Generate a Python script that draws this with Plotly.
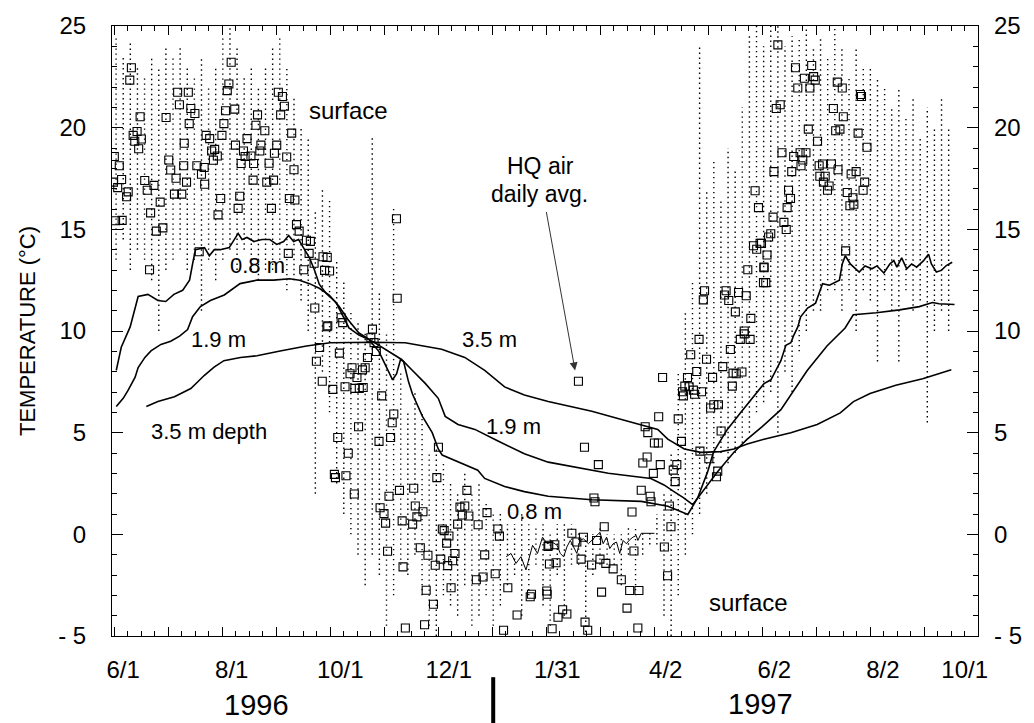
import plotly.graph_objects as go

# ---------------- data (x = days since 1996-06-01, y = temperature degC) -------------
# 0.8 m depth
d08_day = [-3.9, -1.1, 3.9, 6.7, 8.4, 13.9, 19.5, 23.9, 28.5, 33.4, 37.3, 39.0, 40.6, 45.7, 48.4,
           51.2, 54.6, 59.6, 62.4, 64.6, 66.8, 69.6, 73.5, 78.0, 82.4, 86.3, 90.2, 93.0, 95.8, 98.6,
           101.3, 104.7, 107.5, 110.2, 114.1, 119.7, 126.9, 132.5, 138.1, 143.7, 149.2, 151.4, 153.7,
           155.9, 157.6, 160.4, 162.6, 168.2, 173.7, 177.1, 179.3, 188.2, 199.3, 203.2, 214.4, 225.5,
           238.9, 263.4, 291.2, 306.2, 317.4, 322.9, 328.5, 331.8, 339.6, 346.9, 354.1, 360.2, 364.1,
           369.7, 372.5, 375.3, 377.0, 379.2, 380.8, 384.7, 389.2, 393.1, 397.0, 402.6, 404.2, 405.9,
           408.7, 413.7, 417.0, 420.9, 423.7, 427.6, 431.0, 433.2, 434.9, 437.6, 440.4, 443.2, 446.0,
           449.9, 452.7, 454.3, 457.1, 459.9, 462.7, 466.0]
d08_temp = [8.06, 9.2, 10.2, 11.2, 11.7, 11.8, 11.5, 11.45, 11.8, 12.0, 12.5, 13.3, 14.0, 14.1, 13.7,
            14.0, 14.0, 14.1, 14.5, 14.8, 14.5, 14.6, 14.4, 14.5, 14.5, 14.26, 14.4, 14.7, 14.4, 14.5,
            14.1, 13.6, 13.0, 12.3, 11.85, 11.4, 10.15, 9.8, 9.58, 9.0, 8.0, 7.6, 7.9,
            8.6, 8.5, 7.5, 6.9, 5.8, 5.0, 4.2, 3.9, 3.55, 3.15, 2.75, 2.35, 2.1,
            1.87, 1.7, 1.62, 1.38, 0.98, 1.79, 3.07, 4.04, 5.16, 5.97, 6.77, 7.41, 7.6,
            8.54, 9.3, 9.42, 9.8, 10.2, 10.7, 11.13, 11.37, 12.33, 12.25, 12.5, 13.3, 13.7,
            13.3, 12.9, 13.2, 13.06, 13.2, 12.85, 13.3, 13.46, 13.14, 13.6, 13.06, 13.3, 13.14,
            13.46, 13.78, 13.3, 12.9, 12.98, 13.22, 13.38]

# 1.9 m depth
d19_day = [-3.9, 0.0, 2.8, 6.7, 8.4, 12.2, 15.6, 21.2, 26.7, 31.7, 36.2, 39.0, 43.4, 49.0, 56.8,
           65.7, 75.1, 84.6, 93.5, 99.1, 104.7, 110.2, 115.8, 121.4, 126.9, 132.5, 138.1, 143.7,
           149.2, 156.5, 162.6, 169.9, 177.1, 181.0, 188.2, 197.7, 210.4, 225.5, 238.9, 253.9,
           272.7, 296.6, 304.0, 309.6, 315.1, 320.1, 328.5, 334.0, 343.3, 350.8, 359.2, 369.7,
           384.5, 395.6, 405.8, 410.4, 423.4, 436.4, 447.5, 454.9, 458.6, 467.3]
d19_temp = [6.29, 6.69, 7.09, 7.73, 8.2, 8.7, 9.02, 9.34, 9.5, 9.75, 10.07, 10.7, 11.2, 11.5, 11.77,
            12.33, 12.5, 12.5, 12.57, 12.5, 12.33, 12.1, 11.77, 11.2, 10.5, 9.9, 9.6, 9.3,
            9.0, 8.6, 8.06, 7.41, 6.69, 5.8, 5.4, 5.16, 4.6, 3.96, 3.55, 3.32,
            3.0, 2.75, 2.43, 2.1, 1.79, 1.46, 2.43, 3.07, 4.04, 4.68, 5.3, 6.13,
            8.06, 9.26, 10.15, 10.8, 10.9, 11.04, 11.2, 11.4, 11.34, 11.3]

# 3.5 m depth
d35_day = [13.0, 19.5, 28.8, 38.0, 41.8, 45.5, 51.1, 56.6, 65.9, 75.2, 88.2, 103.0, 116.4, 139.0,
           158.5, 169.6, 179.0, 192.0, 203.2, 214.4, 225.5, 238.9, 263.4, 280.1, 292.9, 300.5,
           306.1, 315.4, 324.7, 335.8, 343.3, 350.8, 360.2, 375.3, 390.1, 403.1, 410.5, 419.8,
           434.3, 449.4, 465.5]
d35_temp = [6.29, 6.53, 6.77, 7.17, 7.49, 7.81, 8.22, 8.54, 8.7, 8.78, 9.02, 9.26, 9.42, 9.45,
            9.42, 9.26, 9.1, 8.7, 8.06, 7.25, 6.85, 6.53, 6.05, 5.65, 5.32, 5.16,
            4.68, 4.2, 4.03, 4.07, 4.2, 4.44, 4.68, 5.0, 5.4, 5.97, 6.53, 6.93,
            7.33, 7.65, 8.09]

# surface sensor, snow-covered period (near-continuous trace)
snow_day = [215.3, 218.0, 220.8, 223.6, 226.4, 228.2, 230.1, 232.9, 235.7, 238.3, 241.1, 243.9,
            245.7, 247.6, 249.4, 251.3, 254.1, 255.0, 256.8, 258.7, 261.5, 265.2, 268.0, 269.8,
            271.7, 273.5, 275.4, 277.3, 279.1, 281.0, 282.8, 284.7, 286.5, 288.4, 289.3, 291.2,
            298.6]
snow_temp = [-1.1, -0.94, -1.43, -1.1, -1.75, -1.1, -0.54, -0.94, -0.14, -0.46, -0.38, -0.54,
             -0.94, -1.11, -0.62, -0.30, -0.78, -0.94, -0.30, -0.22, -0.46, -0.14, 0.10, -0.46,
             -0.14, -0.70, -0.46, -0.38, -0.94, -0.30, -0.46, -0.27, -0.14, -0.06, -0.30, 0.05,
             0.05]

# surface sensor, hourly readings summarised as 4-day ranges (bin centre, min, max)
surf_day = [-4, 0, 4, 8, 12, 16, 20, 24, 28, 32, 36, 40, 44, 48, 52, 56, 60, 64, 68, 72, 76, 80,
            84, 88, 92, 96, 100, 104, 108, 112, 116, 120, 124, 128, 132, 136, 140, 144, 148, 152,
            156, 160, 164, 168, 172, 176, 180, 184, 188, 192, 196, 200, 204, 208, 212, 216, 220,
            224, 228, 232, 236, 240, 244, 248, 252, 256, 260, 264, 268, 272, 276, 280, 284, 288,
            292, 296, 300, 304, 308, 312, 316, 320, 324, 328, 332, 336, 340, 344, 348, 352, 356,
            360, 364, 368, 372, 376, 380, 384, 388, 392, 396, 400, 404, 408, 412, 416, 420, 424,
            428, 432, 436, 440, 444, 448, 452, 456, 460, 464]
surf_min = [13.5, 14.5, 13.0, 14.0, 13.5, 12.5, 10.0, 13.0, 13.5, 14.0, 13.0, 13.5, 11.0, 13.5,
            12.5, 13.5, 14.0, 13.0, 14.0, 13.0, 12.5, 13.0, 13.0, 13.5, 12.0, 12.5, 11.5, 10.0,
            2.0, 8.0, 6.0, 2.5, 1.0, 0.0, -1.0, -2.5, -1.0, -2.0, -4.5, -3.0, -1.5, -2.0, -1.0,
            -3.0, -4.5, -5.0, -3.0, -3.5, -4.0, -2.5, -4.5, -4.0, -3.0, -4.5, -3.5, -2.5, -2.0,
            -4.0, -3.0, -1.5, -3.5, -4.5, -2.0, -4.0, -1.5, -1.5, -4.8, -2.0, -1.5, -1.5, -1.5,
            -2.5, -1.0, -3.0, -1.0, -0.5, -0.5, -4.0, -5.0, -3.0, -1.0, 0.0, 1.0, 2.0, 3.0, 4.0,
            3.5, 4.0, 4.5, 5.0, 6.0, 6.5, 7.0, 5.0, 8.0, 7.0, 9.0, 10.0, 11.0, 11.0, 12.0, 12.0,
            11.0, 12.0, 10.0, 12.0, 11.5, 8.5, 12.0, 11.0, 8.5, 12.0, 11.0, 11.5, 5.5, 10.0,
            11.0, 10.0]
surf_max = [24.5, 23.5, 24.2, 23.0, 22.5, 23.5, 23.0, 24.0, 23.5, 24.0, 23.0, 22.5, 23.5, 22.0,
            23.0, 24.5, 25.0, 24.0, 22.5, 23.0, 22.0, 23.0, 24.0, 24.5, 23.0, 21.5, 20.0, 19.5,
            16.0, 17.0, 16.5, 13.5, 12.5, 11.0, 10.5, 10.0, 19.5, 12.0, 10.0, 16.0, 8.0, 6.0, 7.0,
            6.0, 4.0, 4.5, 3.5, 2.5, 2.0, 3.0, 2.0, 2.5, 1.5, 1.0, 1.0, 0.5, 0.5, 1.0, 0.5, 0.3,
            0.5, 0.0, 0.5, 0.5, 0.5, 0.2, 0.0, 0.0, 0.3, 0.0, 0.0, 0.0, 0.3, 0.3, 0.2, 0.2, 1.0,
            2.0, 4.0, 8.0, 11.0, 12.5, 24.0, 17.0, 18.5, 16.5, 19.0, 18.0, 21.0, 24.5, 25.0, 24.0,
            25.0, 25.0, 24.0, 24.5, 24.5, 25.0, 24.0, 24.5, 23.5, 25.0, 24.0, 22.5, 24.0, 23.0,
            23.0, 22.5, 22.0, 21.0, 22.0, 20.5, 21.5, 19.5, 21.0, 20.0, 21.5, 20.0]

# HQ air temperature, daily average
hq_day = [4.6, 3.7, 30.6, 36.6, 31.6, 60.7, 59.4, 58.5, 87.2, 89.5, 90.6, 88.5, 38.0, 40.3, 57.5,
          62.7, 9.5, 24.1, 37.1, 56.6, 75.5, 74.6, 79.6, 94.7, 7.8, 5.6, 6.5, 10.2, 8.7, 34.3,
          46.6, 48.6, 55.5, 63.1, 69.6, 77.4, 86.3, 51.4, 49.7, 67.6, 76.8, 85.0, -5.0, -2.2,
          25.6, 26.7, 34.0, 41.4, 45.5, 44.0, 52.9, 50.7, 68.5, 71.8, 66.3, 73.3, 82.0, 91.9,
          96.0, -5.5, -0.9, -3.1, 12.1, 17.3, 29.7, 35.6, 45.8, 73.0, 80.7, 84.5, 2.8, 1.9, 13.5,
          28.8, 32.9, 20.8, 54.8, 65.5, 93.4, 96.5, 15.4, -4.3, -0.6, 53.3, 64.6, 83.3, 18.6,
          22.3, 97.4, 98.9, 103.0, 105.2, 92.8, 104.5, 112.3, 42.7, 14.8, 101.5, 113.2, 107.3,
          107.7, 114.5, 153.6, 114.7, 116.0, 154.0, 122.5, 123.4, 140.1, 115.0,
          110.4, 108.6, 111.9,
          139.2, 141.0, 142.3, 137.3, 121.5, 128.6, 136.0, 134.5, 127.5, 131.4, 117.8, 124.7,
          130.2, 134.9, 132.7, 145.3, 152.1, 151.2, 132.3, 150.3, 143.8, 120.6, 126.5, 177.2,
          118.7, 125.2, 119.3, 176.3, 129.9, 193.2, 155.3, 163.3, 149.4, 144.4, 164.2, 168.5,
          146.6, 165.1, 156.8, 147.5, 162.7, 189.3, 192.0, 190.6, 194.3, 188.0, 199.5, 204.5,
          179.4, 180.4, 210.6, 211.5, 183.1, 181.8, 167.0, 171.3, 148.6, 186.5, 175.4, 178.5,
          182.4, 185.2, 157.3, 203.2, 209.1, 198.5, 202.3, 216.2, 170.3, 184.3, 174.4, 221.4,
          158.6, 169.4, 213.8, 229.5, 228.8, 238.1, 238.8,
          255.9, 323.7, 319.0, 327.9, 341.3, 346.9, 349.1, 352.4, 337.0, 342.8, 347.8, 344.6,
          322.4, 331.3, 317.2, 303.2, 342.4, 315.7, 318.1, 314.4, 320.5, 321.2, 314.9, 325.1,
          330.2, 332.0, 334.6, 301.0, 312.0, 293.4, 294.9, 336.1, 298.6, 300.8, 313.8, 324.2,
          259.3, 329.2, 267.1, 292.1, 294.5, 301.9, 311.2, 309.2, 298.0, 310.3, 334.2, 333.5,
          291.2, 296.2, 296.7, 264.6, 265.2, 307.0, 286.0, 307.9, 270.4, 252.2, 258.7, 266.1,
          255.0, 239.2, 242.6, 257.4, 239.6, 243.3, 263.3, 268.0, 271.3, 275.4, 287.1, 304.2,
          280.0, 306.0, 268.9, 284.7, 289.9, 238.3, 283.2, 247.0, 244.4, 249.4, 259.6, 241.1,
          261.1, 289.3,
          355.2, 357.1, 354.3, 356.1, 358.0, 351.1, 360.2, 359.9, 326.8, 326.1, 338.9, 338.0,
          340.4, 345.9, 350.2, 344.1, 352.8, 349.1,
          368.0, 377.9, 387.0, 388.1, 389.0, 382.9, 379.2, 386.0, 401.4, 404.2, 414.4, 415.0,
          369.3, 367.1, 399.2, 404.8, 385.1, 400.5, 402.9, 413.1, 390.3, 418.1, 370.3, 376.9,
          380.5, 383.8, 382.0, 381.0, 391.2, 393.1, 398.1, 401.8, 365.8, 375.8, 409.2, 412.0,
          391.6, 394.6, 393.6, 396.8, 395.9, 416.8, 374.0, 415.9, 407.0, 375.1, 410.2, 408.5,
          410.7, 373.2, 365.3, 371.4, 372.7, 364.0, 362.8, 358.8, 361.9, 360.2, 361.2, 406.1]
hq_temp = [22.95, 22.34, 21.74, 21.74, 21.13, 23.22, 22.15, 21.82, 21.74, 21.53, 21.05, 20.63,
           20.94, 20.70, 20.83, 20.91, 20.54, 20.50, 20.20, 20.20, 20.63, 20.12, 19.85, 19.73,
           19.81, 19.62, 19.33, 19.44, 18.96, 19.23, 19.62, 19.46, 19.62, 19.14, 19.46, 19.14,
           19.14, 18.93, 18.85, 18.85, 18.85, 18.74, 18.58, 18.13, 18.41, 17.92, 18.13, 18.13,
           18.04, 17.71, 18.61, 18.40, 18.58, 18.61, 18.24, 18.24, 18.25, 18.56, 17.93, 17.32,
           17.45, 17.05, 17.40, 17.16, 17.51, 17.32, 17.22, 17.42, 17.32, 17.42, 16.84, 16.60,
           16.92, 16.73, 16.73, 16.34, 16.52, 16.63, 16.52, 16.44, 15.81, 15.42, 15.44, 15.71,
           16.03, 16.03, 14.91, 15.07, 15.23, 14.91, 14.46, 14.41, 13.82, 13.82, 13.65, 13.90,
           13.01, 13.01, 12.98, 13.33, 11.13, 10.21, 15.52, 13.62, 12.95, 11.61, 10.65, 10.41,
           10.09, 10.25,
           9.19, 8.51, 7.53,
           9.67, 9.43, 8.99, 8.70, 8.91, 8.19, 8.19, 8.09, 7.90, 7.71, 7.13, 7.26,
           7.18, 7.22, 7.18, 6.81, 5.92, 5.49, 5.29, 4.76, 4.57, 4.76, 3.99, 4.28,
           2.95, 2.88, 2.79, 2.79, 1.98, 2.16, 2.16, 2.27, 1.87, 1.31, 1.39, 1.11,
           1.02, 0.86, 0.66, 0.55, 0.50, 1.34, 1.39, 0.95, 0.90, 0.50, 0.47, 1.07,
           0.26, 0.18, 0.26, -0.09, -0.08, -0.43, -0.66, -1.03, -0.83, -0.94, -1.52, -1.22,
           -1.54, -1.30, -1.60, -1.01, -1.94, -2.23, -2.10, -2.63, -2.75, -2.63, -3.44, -3.97,
           -4.61, -4.45, -4.72, -2.95, -3.07, -2.79, -0.59,
           7.53, 9.59, 8.83, 8.61, 9.09, 9.59, 9.86, 9.59, 8.25, 7.93, 7.98, 7.90,
           8.01, 7.72, 7.71, 7.71, 7.29, 7.29, 7.26, 7.01, 7.09, 6.89, 6.81, 7.01,
           6.21, 6.37, 6.37, 5.78, 5.68, 5.29, 5.00, 5.08, 4.49, 4.49, 4.57, 4.09,
           4.28, 3.72, 3.43, 3.51, 3.80, 3.43, 3.43, 3.16, 3.00, 2.59, 3.11, 2.83,
           2.17, 1.87, 1.60, 1.79, 1.60, 1.39, 1.10, 0.37, 0.37, 0.05, -0.14, -0.30,
           -0.38, -0.54, -0.51, -1.22, -1.46, -1.40, -1.51, -1.22, -1.43, -1.70, -0.82, -0.62,
           -2.23, -2.04, -2.84, -2.76, -2.76, -2.95, -3.63, -3.71, -4.08, -3.92, -4.32, -4.64,
           -4.72, -4.61,
           16.90, 16.07, 14.19, 14.02, 14.31, 13.01, 13.14, 12.38, 11.98, 11.53, 11.98, 11.77,
           11.50, 11.89, 11.73, 10.94, 10.62, 10.00,
           24.07, 22.95, 23.06, 22.51, 22.34, 22.43, 21.95, 21.95, 22.24, 21.95, 21.63, 21.53,
           21.13, 20.94, 20.94, 20.54, 19.93, 19.85, 19.93, 19.73, 19.33, 19.04, 18.77, 18.58,
           18.77, 18.77, 18.41, 18.13, 18.13, 18.21, 18.21, 17.93, 17.84, 17.84, 17.72, 17.84,
           17.61, 17.61, 17.32, 17.13, 16.92, 17.32, 16.92, 16.92, 16.81, 16.52, 16.55, 16.16,
           16.23, 16.07, 15.60, 15.34, 14.99, 14.78, 14.62, 14.31, 13.74, 13.11, 12.38, 13.94]

# axis labels
date_tick_days = [0, 61, 122, 183, 244, 305, 366, 427, 473]
date_tick_text = ["6/1", "8/1", "10/1", "12/1", "1/31", "4/2", "6/2", "8/2", "10/1"]
temp_ticks = [-5, 0, 5, 10, 15, 20, 25]
temp_tick_text = ["- 5", "0", "5", "10", "15", "20", "25"]

# ---------------- figure -------------------------------------------------------------
FONT = "Liberation Sans, Arial, Helvetica, sans-serif"
fig = go.Figure()

# surface hourly readings as dotted vertical ranges
sx, sy = [], []
for d, lo, hi in zip(surf_day, surf_min, surf_max):
    sx += [d, d, None]
    sy += [lo, hi, None]
fig.add_trace(go.Scatter(x=sx, y=sy, mode="lines",
                         line=dict(color="black", width=1.4, dash="1.4px,3.6px"),
                         hoverinfo="skip", showlegend=False))
fig.add_trace(go.Scatter(x=snow_day, y=snow_temp, mode="lines",
                         line=dict(color="black", width=1), showlegend=False))

for dd, tt in [(d08_day, d08_temp), (d19_day, d19_temp), (d35_day, d35_temp)]:
    fig.add_trace(go.Scatter(x=dd, y=tt, mode="lines",
                             line=dict(color="black", width=1.6), showlegend=False))

fig.add_trace(go.Scatter(x=hq_day, y=hq_temp, mode="markers",
                         marker=dict(symbol="square-open", size=8, color="black",
                                     line=dict(width=1.1, color="black")),
                         showlegend=False))

# dummy traces for the right y axis and the label axis
fig.add_trace(go.Scatter(x=[None], y=[None], yaxis="y2", showlegend=False))
fig.add_trace(go.Scatter(x=[None], y=[None], xaxis="x2", showlegend=False))

XR = [-6.3, 480.5]
TICKFONT = dict(size=24, family=FONT, color="black")
fig.update_layout(
    width=1034, height=723,
    margin=dict(l=112, r=48, t=14, b=87),
    paper_bgcolor="white", plot_bgcolor="white",
    font=dict(family=FONT, size=22, color="black"),
    xaxis=dict(range=XR, showgrid=False, zeroline=False, showline=True, linecolor="black",
               linewidth=1, mirror="ticks", ticks="inside", ticklen=9, tickcolor="black",
               tick0=-5, dtick=30.35, showticklabels=False,
               minor=dict(ticks="inside", ticklen=5, tick0=-5, dtick=7.5875, tickcolor="black")),
    xaxis2=dict(range=XR, overlaying="x", side="bottom", anchor="y", showgrid=False,
                zeroline=False, showline=False, tickmode="array", tickvals=date_tick_days,
                ticktext=date_tick_text, ticks="outside", ticklen=12,
                tickcolor="rgba(0,0,0,0)", tickfont=TICKFONT),
    yaxis=dict(range=[-5, 25], showgrid=False, zeroline=False, showline=True,
               linecolor="black", linewidth=1, mirror=True, ticks="inside", ticklen=11,
               tickcolor="black", tickmode="array", tickvals=temp_ticks,
               ticktext=temp_tick_text, ticklabelstandoff=20, tickfont=TICKFONT,
               minor=dict(ticks="inside", ticklen=5, dtick=1, tickcolor="black"),
               title=dict(text="TEMPERATURE (°C)", font=dict(size=22, family=FONT),
                          standoff=16)),
    yaxis2=dict(range=[-5, 25], overlaying="y", side="right", anchor="x", showgrid=False,
                zeroline=False, showline=False, ticks="inside", ticklen=11,
                tickcolor="black", tickmode="array", tickvals=temp_ticks,
                ticktext=temp_tick_text, ticklabelstandoff=15, tickfont=TICKFONT,
                minor=dict(ticks="inside", ticklen=5, dtick=1, tickcolor="black")),
)

def label(text, x, y, size=22):
    fig.add_annotation(x=x, y=y, text=text, showarrow=False, xanchor="center",
                       yanchor="middle", font=dict(size=size, family=FONT, color="black"))

label("surface", 126.9, 20.86, 24)
label("HQ air", 234.7, 18.1, 23)
label("daily avg.", 233.9, 16.76, 23)
label("0.8 m", 75.7, 13.22)
label("1.9 m", 53.5, 9.58)
label("3.5 m depth", 48.4, 5.08)
label("3.5 m", 206.0, 9.58)
label("1.9 m", 219.4, 5.32)
label("0.8 m", 231.3, 1.14)
label("surface", 351.3, -3.36, 24)

fig.add_annotation(x=254.0, y=8.06, ax=-29, ay=-160, text="", showarrow=True,
                   arrowhead=2, arrowsize=1.6, arrowwidth=1, arrowcolor="#333333")

fig.add_annotation(x=0.1667, y=-0.1137, xref="paper", yref="paper", text="1996",
                   xanchor="center", yanchor="middle",
                   showarrow=False, font=dict(size=29, family=FONT))
fig.add_annotation(x=0.749, y=-0.111, xref="paper", yref="paper", text="1997",
                   xanchor="center", yanchor="middle",
                   showarrow=False, font=dict(size=29, family=FONT))
fig.add_shape(type="line", xref="paper", yref="paper", x0=0.4402, x1=0.4402,
              y0=-0.0675, y1=-0.145, line=dict(color="black", width=4))

fig.write_html("out.html")
